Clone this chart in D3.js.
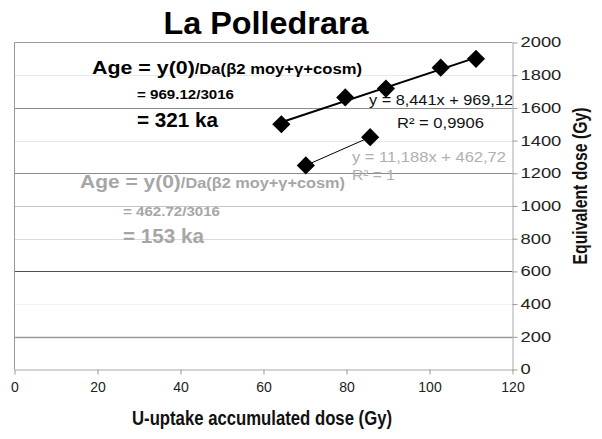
<!DOCTYPE html>
<html><head><meta charset="utf-8">
<script src="https://cdn.jsdelivr.net/npm/d3@7"></script>
<style>body{margin:0;background:#fff}svg{display:block;font-family:"Liberation Sans",Arial,sans-serif}</style>
</head><body>
<script>
const titleText = "La Polledrara";
const xTitle = "U-uptake accumulated dose (Gy)";
const yTitle = "Equivalent dose (Gy)";
const xTicks = [0, 20, 40, 60, 80, 100, 120];
const yTicks = [0, 200, 400, 600, 800, 1000, 1200, 1400, 1600, 1800, 2000];
// Series 1 (older sample)
const s1X = [64.3, 79.7, 89.5, 102.7, 111.2];
const s1Y = [1500, 1664, 1718, 1846, 1900];
const s1Fit = {slope: 8.441, intercept: 969.12, r2: "0,9906"};
// Series 2 (younger sample)
const s2X = [70.2, 85.7];
const s2Y = [1248, 1421];
const s2Fit = {slope: 11.188, intercept: 462.72, r2: "1"};
const doseRate = 3016;
const ages = [321, 153];

const W = 602, H = 439;
const svg = d3.select("body").append("svg").attr("width", W).attr("height", H);
const x = d3.scaleLinear().domain([0, 120]).range([14.5, 512.5]);
const y = d3.scaleLinear().domain([0, 2000]).range([369.5, 42.5]);

const gridCol = {200:"#9a9a9a",400:"#f2f2f2",600:"#505050",800:"#dcdcdc",1000:"#c4c4c4",1200:"#8a8a8a",1400:"#e6e6e6",1600:"#8a8a8a",1800:"#eaeaea"};
svg.append("g").selectAll("line").data(yTicks.filter(d => d > 0 && d < 2000)).join("line")
  .attr("x1", x(0)).attr("x2", x(120)).attr("y1", d => Math.round(y(d)) + 0.5).attr("y2", d => Math.round(y(d)) + 0.5)
  .attr("stroke", d => gridCol[d]).attr("stroke-width", d => d === 200 ? 1.5 : 1);

// plot border (top, left)
svg.append("line").attr("x1", x(0)).attr("x2", x(120)).attr("y1", y(2000)).attr("y2", y(2000)).attr("stroke", "#999");
svg.append("line").attr("x1", x(0)).attr("x2", x(0)).attr("y1", y(2000)).attr("y2", y(0)).attr("stroke", "#999");

// axes
const xAxis = svg.append("g").attr("transform", `translate(0,${y(0)})`)
  .call(d3.axisBottom(x).tickValues(xTicks).tickFormat(d3.format("d")).tickSize(5).tickPadding(4).tickSizeOuter(0));
const yAxis = svg.append("g").attr("transform", `translate(${x(120)},0)`)
  .call(d3.axisRight(y).tickValues(yTicks).tickFormat(d3.format("d")).tickSize(5).tickPadding(3).tickSizeOuter(0));
[xAxis, yAxis].forEach(a => {
  a.select(".domain").attr("stroke", "#aaa");
  a.selectAll(".tick line").attr("stroke", "#999");
  a.selectAll(".tick text").attr("fill", "#222").attr("font-size", 14).attr("font-family", "Liberation Sans, Arial, sans-serif");
});
xAxis.selectAll(".tick text").attr("dy", "0.95em");
yAxis.selectAll(".tick text").attr("x", 8)
  .attr("textLength", d => String(d).length * 10.2).attr("lengthAdjust", "spacingAndGlyphs");

function txt(x0, yb, str, size, width, opts = {}) {
  const t = svg.append("text").attr("x", x0).attr("y", yb).attr("font-size", size)
    .attr("fill", opts.fill || "#111").attr("font-weight", opts.bold ? "bold" : null)
    .attr("text-anchor", opts.anchor || "start").text(str);
  if (width) t.attr("textLength", width).attr("lengthAdjust", "spacingAndGlyphs");
  return t;
}

// titles
txt(266, 34, titleText, 32, 205, {bold: true, anchor: "middle", fill: "#000"});
txt(262, 425, xTitle, 20, 260, {bold: true, anchor: "middle"});
svg.append("g").attr("transform", "translate(587,186) rotate(-90)")
  .append("text").attr("text-anchor", "middle").attr("font-size", 20).attr("font-weight", "bold")
  .attr("fill", "#111").attr("textLength", 157).attr("lengthAdjust", "spacingAndGlyphs").text(yTitle);

// fit lines
function fitLine(xs, fit, w) {
  const x0 = d3.min(xs), x1 = d3.max(xs);
  svg.append("line").attr("x1", x(x0)).attr("y1", y(fit.slope * x0 + fit.intercept))
    .attr("x2", x(x1)).attr("y2", y(fit.slope * x1 + fit.intercept))
    .attr("stroke", "#000").attr("stroke-width", w);
}
fitLine(s1X, s1Fit, 2);
fitLine(s2X, s2Fit, 1);

// diamonds
const diamond = d3.symbol().type(d3.symbolSquare).size(165);
function pts(xs, ys) {
  svg.append("g").selectAll("path").data(xs.map((d, i) => [d, ys[i]])).join("path")
    .attr("d", diamond).attr("transform", d => `translate(${x(d[0])},${y(d[1])}) rotate(45)`)
    .attr("fill", "#000");
}
pts(s1X, s1Y);
pts(s2X, s2Y);

const fmt = v => String(v).replace(".", ",");
// equation labels
txt(369, 105, `y = ${fmt(s1Fit.slope)}x + ${fmt(s1Fit.intercept)}`, 15, 144, {fill: "#111"});
txt(397, 128, `R² = ${s1Fit.r2}`, 15, 87, {fill: "#111"});
txt(352, 162, `y = ${fmt(s2Fit.slope)}x + ${fmt(s2Fit.intercept)}`, 15, 154, {fill: "#b0b0b0"});
txt(352, 180, `R² = ${s2Fit.r2}`, 15, 43, {fill: "#b0b0b0"});

// age annotations
function ageBlock(x0, yb, col, wLine, intercept, age, dy1, dy2) {
  const t = svg.append("text").attr("x", x0).attr("y", yb).attr("fill", col).attr("font-weight", "bold")
    .attr("textLength", wLine).attr("lengthAdjust", "spacingAndGlyphs");
  t.append("tspan").attr("font-size", 18).text("Age = y(0)");
  t.append("tspan").attr("font-size", 14).text("/Da(β2 moy+γ+cosm)");
  txt(x0 + 45 + (x0 < 90 ? -2 : 0), yb + dy1, `= ${intercept}/${doseRate}`, 13, 97, {bold: true, fill: col});
  txt(x0 + 45 + (x0 < 90 ? -2 : 0), yb + dy2, `= ${age} ka`, 19.5, 81, {bold: true, fill: col});
}
ageBlock(92, 74, "#000", 270, "969.12", ages[0], 25, 53);
ageBlock(80, 188, "#a6a6a6", 265, "462.72", ages[1], 28, 55);
</script>
</body></html>
